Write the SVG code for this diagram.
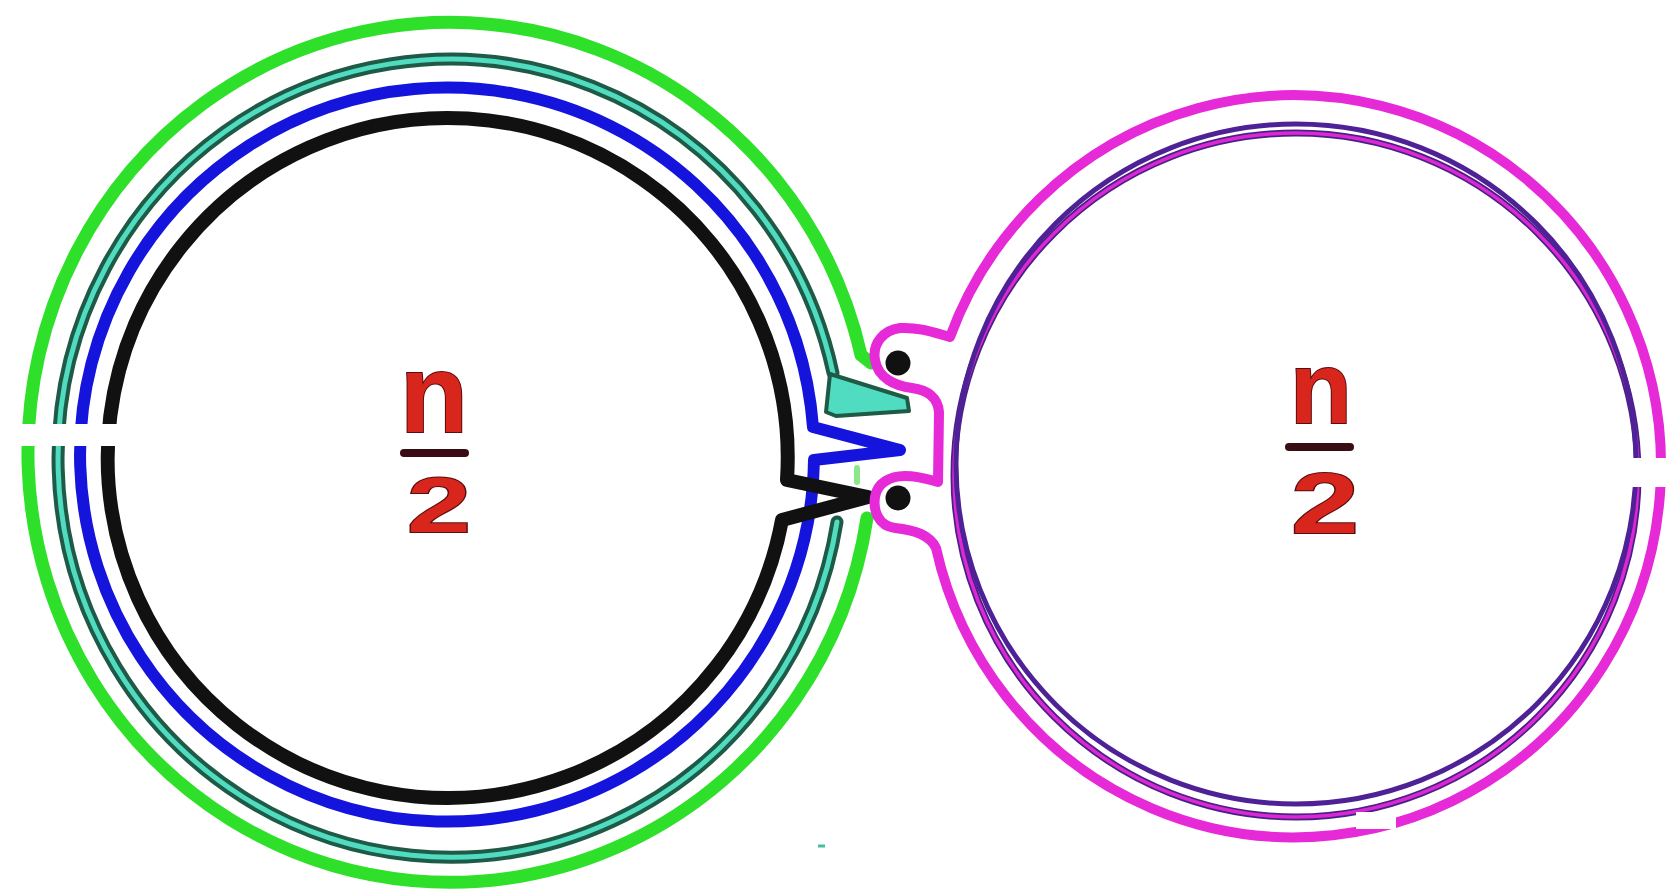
<svg xmlns="http://www.w3.org/2000/svg" width="1669" height="896" viewBox="0 0 1669 896">
<style>
.ring{fill:none;stroke-linecap:round;stroke-linejoin:round}
.green{stroke:#2fe02a;stroke-width:13}
.tealEdge{stroke:#1f5a46;stroke-width:13}
.tealCore{stroke:#4fdcc0;stroke-width:5}
.blue{stroke:#1414dc;stroke-width:12}
.black{stroke:#111;stroke-width:14}
.mag{stroke:#e62ad8;stroke-width:10}
.innerA{stroke:#4e2296;stroke-width:5}
.innerBedge{stroke:#4a2088;stroke-width:7}
.innerB{stroke:#dc28d2;stroke-width:3.5}
.frac{font-family:"Liberation Sans",Arial,sans-serif;font-weight:bold;fill:#d8261c;stroke:#5a0c10;stroke-width:2;paint-order:stroke;text-anchor:middle}
.bar{stroke:#3a0c14;stroke-width:8;stroke-linecap:round}
.erase{fill:#fff}
.dot{fill:#111}
</style>
<rect width="1669" height="896" fill="#fff"/>
<g id="left-circle">
  <path class="ring green" d="M867,518 A422 430 0 1 1 861,355 L871,363"/>
  <line x1="857" y1="468" x2="857" y2="482" stroke="#8be88a" stroke-width="6" stroke-linecap="round"/>
  <path class="ring tealEdge" d="M837,522 A392 399 0 1 1 833,373"/>
  <path class="ring tealCore" d="M837,522 A392 399 0 1 1 833,373"/>
  <polygon points="830,374 907,398 909,411 836,416 826,412" fill="#4fdcc0" stroke="#1f5a46" stroke-width="4" stroke-linejoin="round"/>
  <path class="ring blue" d="M814,460 A367 367 0 1 1 813,427 L900,450 Z"/>
  <path class="ring black" d="M782,520 A340 340 0 1 1 787,480 L868,497 Z"/>
  <line x1="818" y1="846" x2="825" y2="846" stroke="#3fbfa0" stroke-width="3"/>
</g>
<g id="right-circle">
  <circle class="ring innerBedge" cx="1296" cy="475" r="342"/>
  <circle class="ring innerB" cx="1296" cy="475" r="342"/>
  <circle class="ring innerA" cx="1296" cy="464" r="340"/>
  <path class="ring mag" d="M950,337 A367 371 0 1 1 936,548 C930,535 915,530 895,528 C878,526 873,510 875,497 C877,483 890,476 905,476 C920,476 930,480 938,482 L939,412 C938,398 928,390 912,388 C895,386 878,378 875,360 C872,343 884,330 900,328 C920,327 935,333 950,337"/>
</g>
<g id="dots">
  <circle class="dot" cx="898" cy="363" r="12.5"/>
  <circle class="dot" cx="898" cy="498" r="12.5"/>
</g>
<g id="erasures">
  <rect class="erase" x="0" y="424" width="122" height="22"/>
  <rect class="erase" x="1628" y="458" width="41" height="29"/>
  <rect class="erase" x="1356" y="812" width="40" height="17"/>
</g>
<g id="label-left">
  <text class="frac" x="434" y="432" font-size="112">n</text>
  <line class="bar" x1="404" y1="453" x2="465" y2="453"/>
  <text class="frac" x="439" y="532" font-size="78" textLength="64" lengthAdjust="spacingAndGlyphs">2</text>
</g>
<g id="label-right">
  <text class="frac" x="1321" y="423" font-size="102">n</text>
  <line class="bar" x1="1289" y1="447" x2="1350" y2="447"/>
  <text class="frac" x="1325" y="533" font-size="85" textLength="68" lengthAdjust="spacingAndGlyphs">2</text>
</g>
<g id="connectors"></g>
</svg>
